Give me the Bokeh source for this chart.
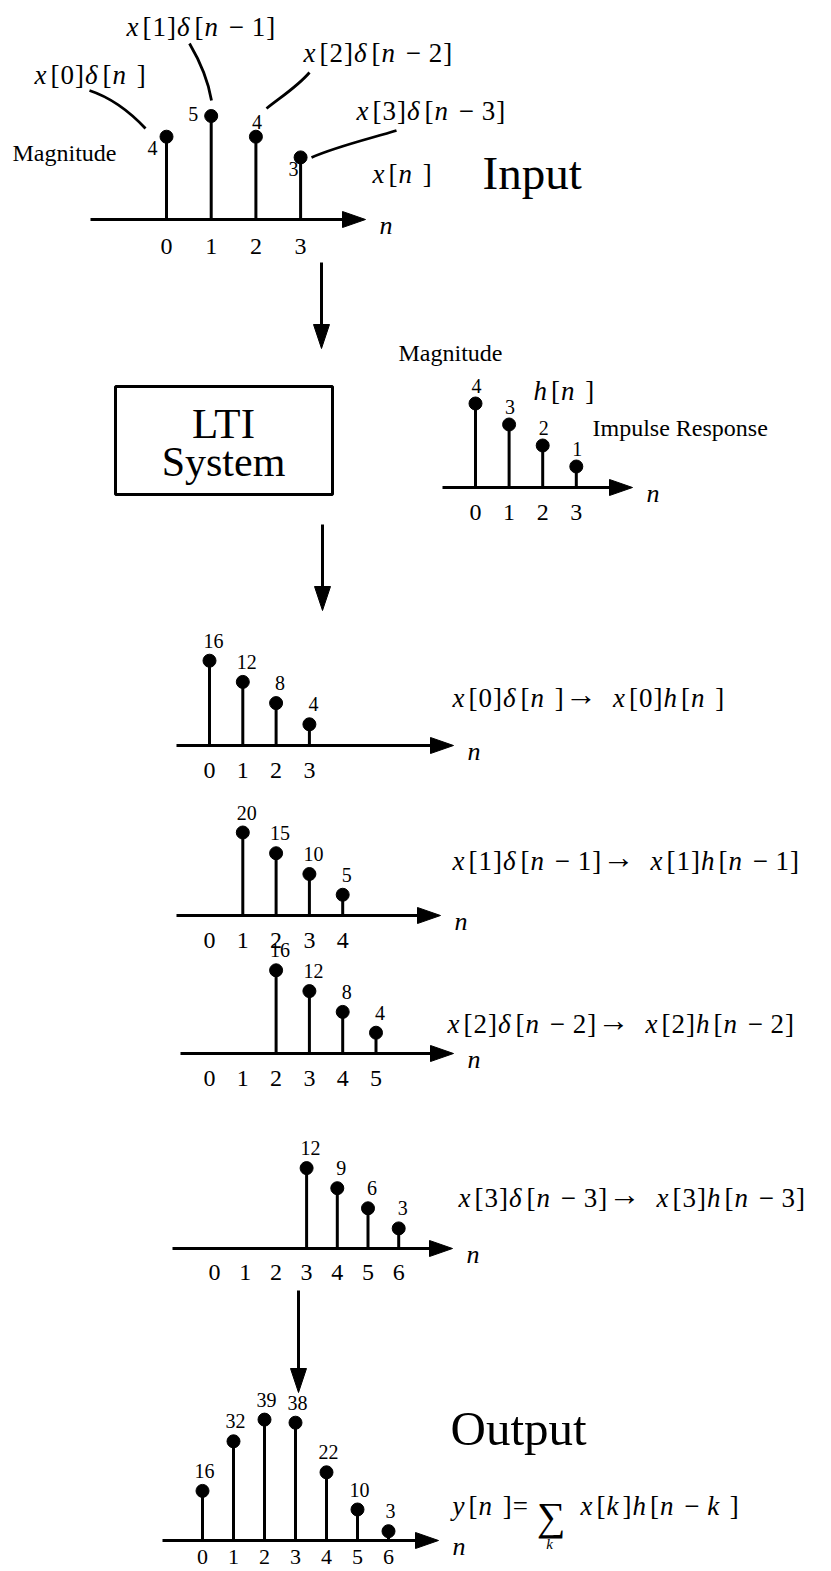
from bokeh.plotting import figure
from bokeh.models import Range1d
from bokeh.embed import file_html
from bokeh.resources import INLINE
from bokeh.core.properties import value

W, H = 831, 1571
SERIF = "Liberation Serif"
INK = "black"

# ---- signals -------------------------------------------------------------
x_n = [0, 1, 2, 3]
x_v = [4, 5, 4, 3]
h_n = [0, 1, 2, 3]
h_v = [4, 3, 2, 1]
a_n = [0, 1, 2, 3]
a_v = [16, 12, 8, 4]
b_n = [1, 2, 3, 4]
b_v = [20, 15, 10, 5]
c_n = [2, 3, 4, 5]
c_v = [16, 12, 8, 4]
d_n = [3, 4, 5, 6]
d_v = [12, 9, 6, 3]
y_n = [0, 1, 2, 3, 4, 5, 6]
y_v = [16, 32, 39, 38, 22, 10, 3]

x_ticks = [0, 1, 2, 3]
h_ticks = [0, 1, 2, 3]
a_ticks = [0, 1, 2, 3]
b_ticks = [0, 1, 2, 3, 4]
c_ticks = [0, 1, 2, 3, 4, 5]
d_ticks = [0, 1, 2, 3, 4, 5, 6]
y_ticks = [0, 1, 2, 3, 4, 5, 6]

# ---- panel geometry (screen pixels): origin, step per n, px per unit, axis extent,
#      gap between axis and tick digits
LAYOUT = {
    "inp": dict(x0=166, dx=44.7, y0=219, ky=20.7, left=90, tip=365, tick=27),
    "h":   dict(x0=475, dx=33.6, y0=487, ky=21.0, left=442, tip=632, tick=25),
    "a":   dict(x0=209, dx=33.3, y0=745, ky=5.3, left=176, tip=453, tick=25),
    "b":   dict(x0=209, dx=33.3, y0=915, ky=4.15, left=176, tip=440, tick=25),
    "c":   dict(x0=209, dx=33.3, y0=1053, ky=5.2, left=180, tip=453, tick=25),
    "d":   dict(x0=214, dx=30.7, y0=1248, ky=6.7, left=172, tip=452, tick=24),
    "e":   dict(x0=202, dx=31.0, y0=1540, ky=3.1, left=162, tip=438, tick=16),
}

p = figure(width=W, height=H, x_range=Range1d(0, W), y_range=Range1d(H, 0),
           output_backend="svg", toolbar_location=None, min_border=0)
p.axis.visible = False
p.grid.visible = False
p.outline_line_color = None
p.background_fill_color = "white"
p.border_fill_color = "white"

F = value(SERIF)


def arrow_right(tip, y, length=23, half=8):
    p.patches([[tip - length, tip - length, tip]], [[y - half, y + half, y]],
              fill_color=INK, line_color=INK, line_width=1)


def arrow_down(x, top, tip, length=24, half=8):
    p.segment([x], [top], [x], [tip - length + 2], line_width=3, line_color=INK)
    p.patches([[x - half, x + half, x]], [[tip - length, tip - length, tip]],
              fill_color=INK, line_color=INK, line_width=1)


def stem_panel(key, n, v, ticks, lab_dx, lab_dy, tick_size=24):
    L = LAYOUT[key]
    xr, yr = key + "_x", key + "_y"
    p.extra_x_ranges[xr] = Range1d(-L["x0"] / L["dx"], (W - L["x0"]) / L["dx"])
    p.extra_y_ranges[yr] = Range1d((L["y0"] - H) / L["ky"], L["y0"] / L["ky"])
    # horizontal axis with arrow head
    p.segment([L["left"]], [L["y0"]], [L["tip"] - 20], [L["y0"]], line_width=3, line_color=INK)
    arrow_right(L["tip"], L["y0"])
    kw = dict(x_range_name=xr, y_range_name=yr)
    p.segment(n, [0] * len(n), n, v, line_width=3, line_color=INK, **kw)
    p.scatter(n, v, marker="circle", size=13, fill_color=INK, line_color=INK, **kw)
    if not isinstance(lab_dx, list):
        lab_dx = [lab_dx] * len(n)
    if not isinstance(lab_dy, list):
        lab_dy = [lab_dy] * len(n)
    p.text(n, v, text=[str(t) for t in v], x_offset=lab_dx, y_offset=lab_dy,
           text_font=F, text_font_size="20px", text_align="center",
           text_baseline="middle", text_color=INK, **kw)
    p.text(ticks, [0] * len(ticks), text=[str(t) for t in ticks], y_offset=L["tick"],
           text_font=F, text_font_size="%dpx" % tick_size, text_align="center",
           text_baseline="middle", text_color=INK, **kw)
    # the running index label at the arrow tip
    p.text([L["tip"] + 14], [L["y0"] + 6], text=["n"], text_font=F,
           text_font_size="26px", text_font_style="italic",
           text_baseline="alphabetic", text_color=INK)


EM = {"[": .333, "]": .333, "=": .564, "\u2212": .564, "\u2192": 1.0,
      "x": .444, "n": .5, "h": .5, "k": .444, "y": .444, "\u03b4": .5, "_": .25}
ITALIC = set("xnhky\u03b4")


def expr(tokens, x, y, size=27):
    """Lay out a formula token by token: italic variables, upright digits and brackets."""
    up_x, up_t, it_x, it_t = [], [], [], []
    cur = x
    for tok in tokens.split(" "):
        if tok == "_":
            cur += .25 * size
            continue
        if tok == "\u2211":
            p.text([cur + 1], [y + 11], text=["\u2211"], text_font=F, text_font_size="40px",
                   text_baseline="middle", text_align="left", text_color=INK)
            p.text([cur + 14], [y + 38], text=["k"], text_font=F, text_font_size="15px",
                   text_font_style="italic", text_baseline="middle",
                   text_align="center", text_color=INK)
            cur += 38
            continue
        if tok == "\u2192":
            p.text([cur], [y - 4], text=["\u2192"], text_font=F, text_font_size="32px",
                   text_baseline="middle", text_align="left", text_color=INK)
            cur += 28
            continue
        w = EM.get(tok, .5) * size + 1
        if tok in ITALIC:
            it_x.append(cur)
            it_t.append(tok)
            w += 3
        else:
            up_x.append(cur)
            up_t.append(tok)
        cur += w
    fs = "%dpx" % size
    p.text(up_x, [y] * len(up_x), text=up_t, text_font=F, text_font_size=fs,
           text_baseline="middle", text_align="left", text_color=INK)
    p.text(it_x, [y] * len(it_x), text=it_t, text_font=F, text_font_size=fs,
           text_font_style="italic", text_baseline="middle", text_align="left",
           text_color=INK)


def label(txt, x, y, size, align="left"):
    p.text([x], [y], text=[txt], text_font=F, text_font_size="%dpx" % size,
           text_align=align, text_baseline="middle", text_color=INK)


# ---- input x[n] ------------------------------------------------------------
stem_panel("inp", x_n, x_v, x_ticks, lab_dx=[-14, -18, 1, -7], lab_dy=[11, -2, -15, 12])
label("Magnitude", 12, 152, 24)
expr("x [ n _ ]", 372, 173)
label("Input", 482, 172, 47)

expr("x [ 0 ] \u03b4 [ n _ ]", 34, 74)
expr("x [ 1 ] \u03b4 [ n _ \u2212 _ 1 ]", 126, 26)
expr("x [ 2 ] \u03b4 [ n _ \u2212 _ 2 ]", 303, 52)
expr("x [ 3 ] \u03b4 [ n _ \u2212 _ 3 ]", 356, 110)

# hand-drawn leaders from each term to its sample
p.bezier(x0=[89, 189, 309, 396], y0=[90, 43, 72, 130],
         x1=[145, 211, 266, 311], y1=[128, 100, 108, 157],
         cx0=[110, 199, 297, 370], cy0=[97, 60, 86, 138],
         cx1=[130, 208, 281, 336], cy1=[112, 82, 96, 146],
         line_width=2.8, line_color=INK)

arrow_down(321, 262, 348)

# ---- LTI system and impulse response ---------------------------------------
p.quad(left=[115], right=[332], top=[386], bottom=[494], fill_color=None,
       line_color=INK, line_width=3)
label("LTI", 223, 423, 43, "center")
label("System", 223, 461, 42, "center")

stem_panel("h", h_n, h_v, h_ticks, lab_dx=1, lab_dy=-18)
label("Magnitude", 398, 352, 24)
expr("h [ n _ ]", 533, 390)
label("Impulse Response", 592, 427, 24)

arrow_down(322, 524, 610)

# ---- shifted, scaled responses ---------------------------------------------
stem_panel("a", a_n, a_v, a_ticks, lab_dx=4, lab_dy=-20)
expr("x [ 0 ] \u03b4 [ n _ ] \u2192 _ _ _ x [ 0 ] h [ n _ ]", 452, 697)

stem_panel("b", b_n, b_v, b_ticks, lab_dx=4, lab_dy=-20)
expr("x [ 1 ] \u03b4 [ n _ \u2212 _ 1 ] \u2192 _ _ _ x [ 1 ] h [ n _ \u2212 _ 1 ]", 452, 860)

stem_panel("c", c_n, c_v, c_ticks, lab_dx=4, lab_dy=-20)
expr("x [ 2 ] \u03b4 [ n _ \u2212 _ 2 ] \u2192 _ _ _ x [ 2 ] h [ n _ \u2212 _ 2 ]", 447, 1023)

stem_panel("d", d_n, d_v, d_ticks, lab_dx=4, lab_dy=-20)
expr("x [ 3 ] \u03b4 [ n _ \u2212 _ 3 ] \u2192 _ _ _ x [ 3 ] h [ n _ \u2212 _ 3 ]", 458, 1197)

arrow_down(298, 1290, 1392)

# ---- output y[n] -----------------------------------------------------------
stem_panel("e", y_n, y_v, y_ticks, lab_dx=2, lab_dy=-20, tick_size=22)
label("Output", 450, 1428, 49)
expr("y [ n _ ] = _ \u2211 _ x [ k ] h [ n _ \u2212 _ k _ ]", 452, 1505)

open("out.html", "w").write(file_html(p, INLINE))
